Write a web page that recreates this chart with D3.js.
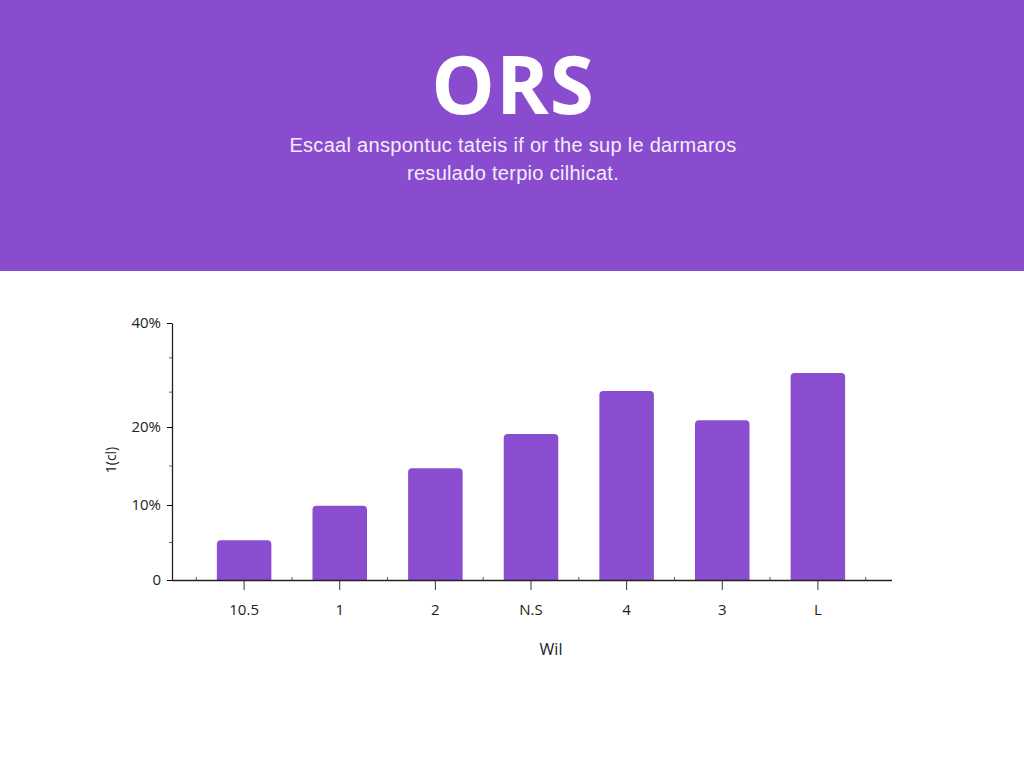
<!DOCTYPE html>
<html><head><meta charset="utf-8">
<script src="https://cdn.jsdelivr.net/npm/d3@7"></script>
<style>
html,body{margin:0;padding:0;background:#fff;}
svg{display:block;font-family:"Open Sans","Noto Sans",sans-serif;}
</style></head>
<body>
<svg id="chart" width="1024" height="768"></svg>
<script>
const title = "ORS";
const subtitleLines = ["Escaal anspontuc tateis if or the sup le darmaros", "resulado terpio cilhicat."];
const categories = ["10.5", "1", "2", "N.S", "4", "3", "L"];
const values = [5.3, 9.9, 14.7, 19.1, 26.9, 21.3, 30.4];
const yTickValues = [0, 10, 20, 40];
const yTickLabels = ["0", "10%", "20%", "40%"];
const yMinorTicks = [5, 15, 26.7, 33.3];
const xTitle = "Wil";
const yTitle = "1(cl)";

const svg = d3.select("#chart");
const purple = "#8a4dd0";

// header
svg.append("rect").attr("x",0).attr("y",0).attr("width",1024).attr("height",271).attr("fill","#8a4ccf");
svg.append("text").attr("x",513).attr("y",114).attr("text-anchor","middle")
  .attr("fill","#fff").attr("font-size",80).attr("font-weight",700)
  .attr("font-family","'Open Sans',sans-serif").attr("letter-spacing",1).text(title);
subtitleLines.forEach((t,i)=>{
  svg.append("text").attr("x",513).attr("y",152+i*28).attr("text-anchor","middle")
    .attr("fill","#f3ecfb").attr("font-size",20).attr("letter-spacing",0.3)
    .attr("font-family","'Liberation Sans',Arial,sans-serif").text(t);
});

// scales
const x = d3.scaleBand().domain(categories).range([192, 870]).paddingInner(0.43).paddingOuter(0.26);
const y = d3.scaleLinear().domain([0,10,20,40]).range([580,505,427,323]);

const g = svg.append("g");

// bars with rounded top
const r = 4;
g.selectAll("path.bar").data(values).enter().append("path")
  .attr("class","bar").attr("fill",purple)
  .attr("d",(d,i)=>{
    const x0 = x(categories[i]), w = x.bandwidth(), y0 = y(d), yb = y(0);
    return `M${x0},${yb}V${y0+r}Q${x0},${y0} ${x0+r},${y0}H${x0+w-r}Q${x0+w},${y0} ${x0+w},${y0+r}V${yb}Z`;
  });

// x axis
const xAxis = g.append("g").attr("transform",`translate(0,${y(0)})`)
  .call(d3.axisBottom(x).tickSize(10).tickPadding(14).tickSizeOuter(0));
xAxis.select(".domain").attr("d",`M172,0.5H892`).attr("stroke","#222").attr("stroke-width",1.3);
xAxis.selectAll(".tick line").attr("stroke","#333");
xAxis.selectAll(".tick text").attr("font-size",15).attr("fill","#222")
  .attr("font-family","'Open Sans',sans-serif");
// minor ticks at band edges
const step = x.step();
const edges = categories.map(c=>x(c)+x.bandwidth()/2 - step/2).concat([x(categories[categories.length-1])+x.bandwidth()/2+step/2]);
xAxis.selectAll("line.minor").data(edges).enter().append("line")
  .attr("x1",d=>d).attr("x2",d=>d).attr("y1",0).attr("y2",-3).attr("stroke","#555");

// y axis
const yAxis = g.append("g").attr("transform","translate(172,0)")
  .call(d3.axisLeft(y).tickValues(yTickValues).tickFormat((d,i)=>yTickLabels[i]).tickSize(5).tickPadding(6).tickSizeOuter(0));
yAxis.select(".domain").attr("stroke","#222").attr("stroke-width",1.3);
yAxis.selectAll(".tick text").attr("font-size",15).attr("fill","#222")
  .attr("font-family","'Open Sans',sans-serif");
yAxis.selectAll("line.minor").data(yMinorTicks).enter().append("line")
  .attr("x1",0).attr("x2",-3).attr("y1",d=>y(d)).attr("y2",d=>y(d)).attr("stroke","#666");

// axis titles
svg.append("text").attr("x",551).attr("y",655).attr("text-anchor","middle")
  .attr("font-size",16).attr("fill","#222").text(xTitle);
svg.append("text").attr("transform","translate(116,460) rotate(-90)").attr("text-anchor","middle")
  .attr("font-size",14).attr("fill","#222").text(yTitle);
</script>
</body></html>
